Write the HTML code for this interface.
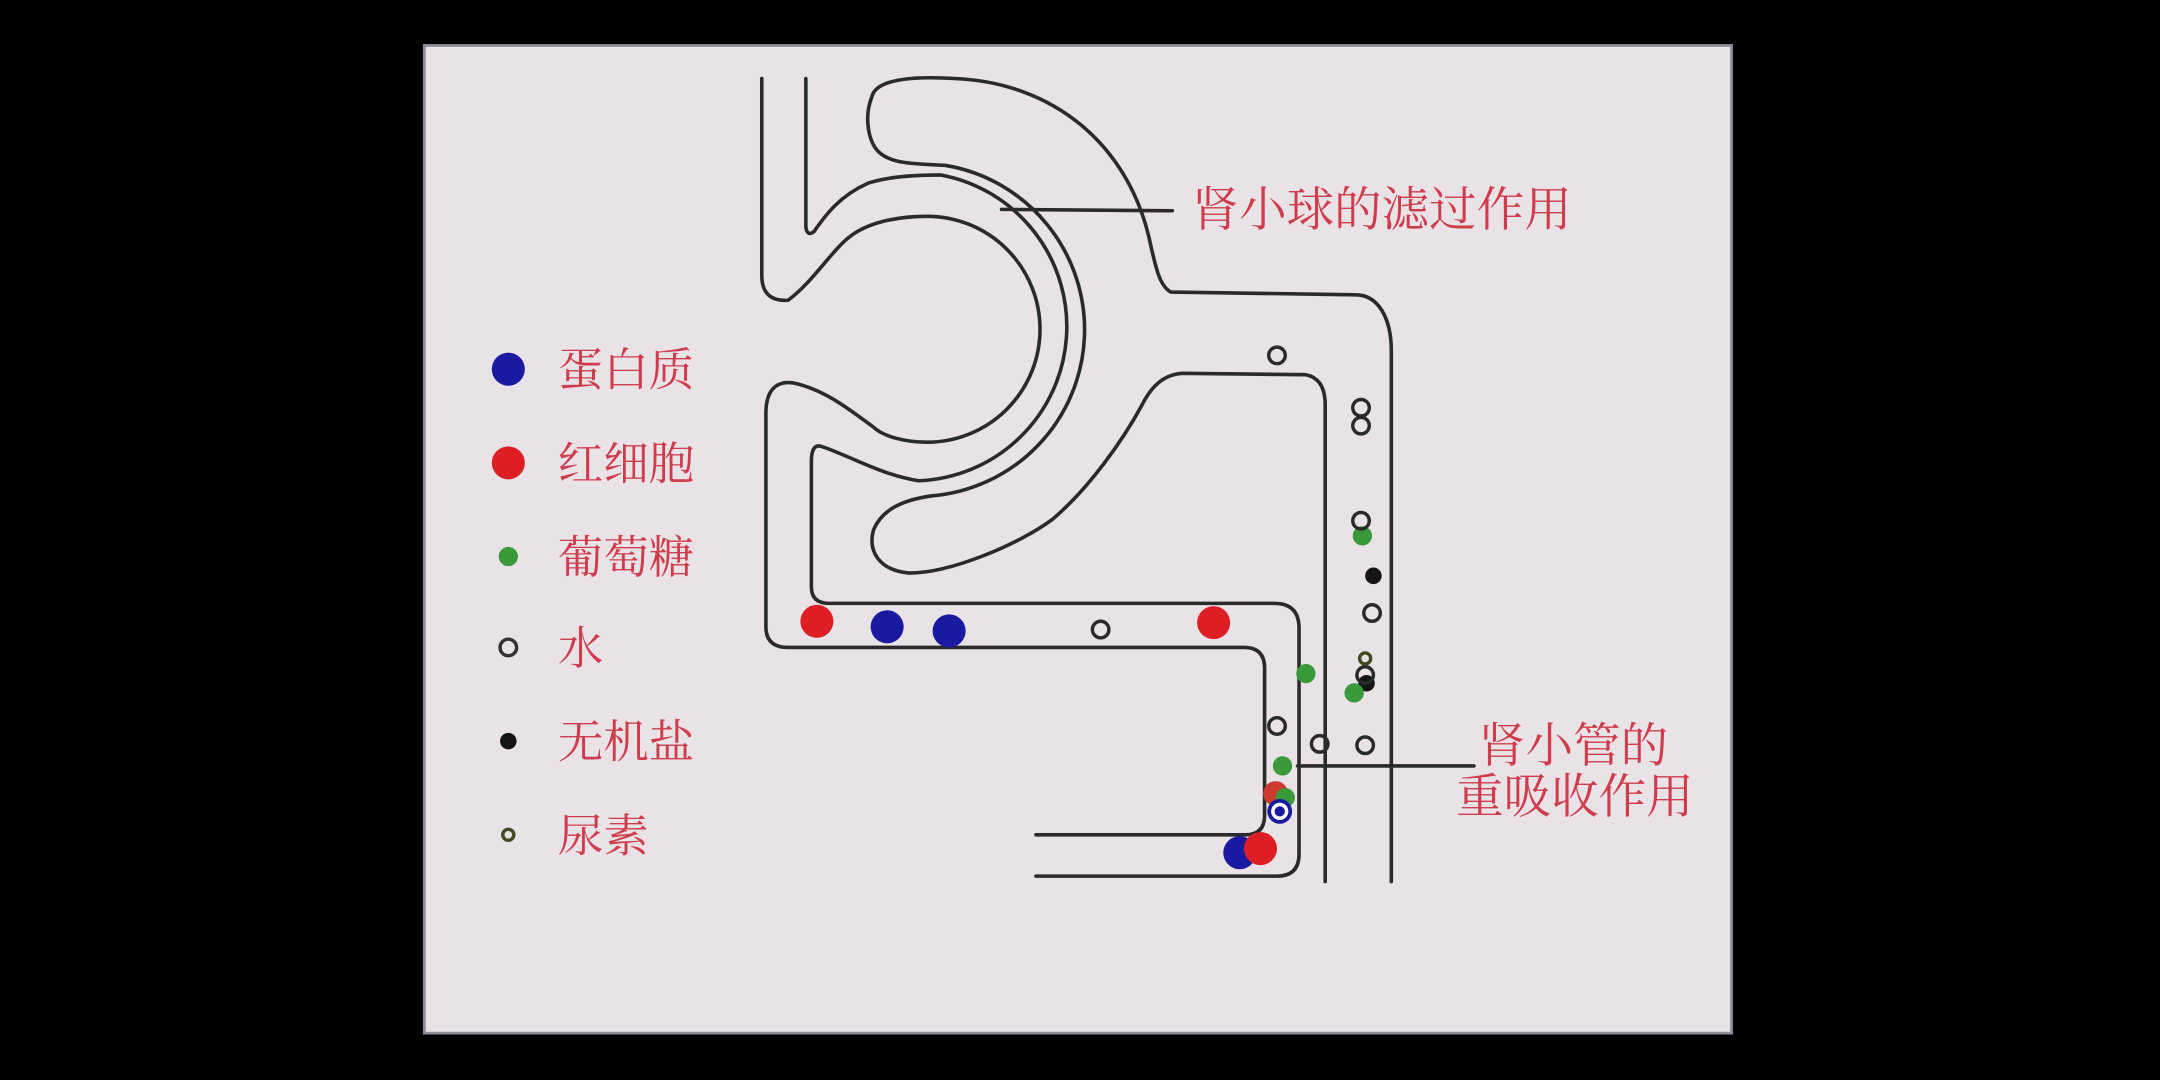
<!DOCTYPE html>
<html><head><meta charset="utf-8"><style>
html,body{margin:0;padding:0;background:#000;}
svg{display:block;}
text{font-family:"Liberation Serif","Noto Serif CJK SC",serif;fill:#cf3d4c;}
</style></head><body>
<svg width="2160" height="1080" viewBox="0 0 1568 784" xmlns="http://www.w3.org/2000/svg">
<rect x="0" y="0" width="1568" height="784" fill="#000"/>
<rect x="308" y="33" width="949" height="717" fill="#e9e3e7" stroke="#8a8c9a" stroke-width="2"/>
<g fill="none" stroke="#2a2a2a" stroke-width="2.6" stroke-linejoin="round" stroke-linecap="round">
<path d="M553,57 L553,200 Q553,219 572,218 C590,205 605,180 618,171 C630,162 650,157 673,157 A82,82 0 0 1 673,321 C655,321 640,316 634,310 C620,300 600,283 576,278 C562,276 556,285 556,300 L556,455 Q556,470 572,470 L903,470 Q918,470 918,485 L918,592 Q918,606 904,606 L752,606"/>
<path d="M585,57 L585,165 Q586,172 591,168 C600,155 610,142 630,133 C645,128 665,127 683,127 A112,112 0 0 1 667,349 C640,345 615,330 596,324 Q589,322 589,335 L589,426 Q589,438 602,438 L925,438 Q943,438 943,456 L943,620 Q943,636 927,636 L752,636"/>
<path d="M1010,640 L1010,255 C1010,230 1000,214 984,214 L850,212 C842,208 839,195 834,172 C818,105 765,60 693,57 C660,55 636,58 633,70 C627,85 630,105 640,112 C648,118 660,119 686,120 A121,121 0 0 1 676,360 C655,363 640,370 634,385 C630,400 638,414 660,416 C690,416 740,395 764,377 C790,355 815,320 829,294 C836,280 845,272 858,271 L948,272 C958,274 962,282 962,294 L962,640"/>
<line x1="727" y1="152" x2="851" y2="153"/>
<line x1="942" y1="556" x2="1070" y2="556"/>
</g>
<circle cx="369" cy="268" r="12" fill="#1a1aa0"/>
<circle cx="369" cy="336" r="12" fill="#dd1f25"/>
<circle cx="369" cy="404" r="7" fill="#3a9a3a"/>
<circle cx="369" cy="470" r="6" fill="none" stroke="#333" stroke-width="2.5"/>
<circle cx="369" cy="538" r="6" fill="#151515"/>
<circle cx="369" cy="606" r="4" fill="none" stroke="#444a20" stroke-width="2.5"/>
<g font-size="33">
<text x="405" y="280">蛋白质</text>
<text x="405" y="348">红细胞</text>
<text x="405" y="416">葡萄糖</text>
<text x="405" y="482">水</text>
<text x="405" y="550">无机盐</text>
<text x="405" y="618">尿素</text>
</g>
<g font-size="34.5">
<text x="865" y="164">肾小球的滤过作用</text>
<text x="1073" y="553">肾小管的</text>
<text x="1057" y="590">重吸收作用</text>
</g>
<g>
<circle cx="593" cy="451" r="12" fill="#dd1f25"/>
<circle cx="644" cy="455" r="12" fill="#1a1aa0"/>
<circle cx="689" cy="458" r="12" fill="#1a1aa0"/>
<circle cx="881" cy="452" r="12" fill="#dd1f25"/>
<circle cx="948" cy="489" r="7" fill="#3a9a3a"/>
<circle cx="989" cy="389" r="7" fill="#3a9a3a"/>
<circle cx="997" cy="418" r="6" fill="#151515"/>
<circle cx="992" cy="496" r="6" fill="#151515"/>
<circle cx="983" cy="503" r="7" fill="#3a9a3a"/>
<circle cx="931" cy="556" r="7" fill="#3a9a3a"/>
<circle cx="926" cy="576" r="9" fill="#cc3a30"/>
<circle cx="933" cy="579" r="7" fill="#3a9a3a"/>
<circle cx="929" cy="589" r="9" fill="#1a1aa0"/>
<circle cx="900" cy="619" r="12" fill="#1a1aa0"/>
<circle cx="915" cy="616" r="12" fill="#dd1f25"/>
<g fill="none" stroke="#2a2a2a" stroke-width="2.5">
<circle cx="799" cy="457" r="6"/>
<circle cx="927" cy="258" r="6"/>
<circle cx="988" cy="296" r="6"/>
<circle cx="988" cy="309" r="6"/>
<circle cx="988" cy="378" r="6"/>
<circle cx="996" cy="445" r="6"/>
<circle cx="991" cy="490" r="6"/>
<circle cx="927" cy="527" r="6"/>
<circle cx="958" cy="540" r="6"/>
<circle cx="991" cy="541" r="6"/>
<circle cx="929" cy="589" r="5" stroke="#fff"/>
<circle cx="991" cy="478" r="4" stroke="#444a20"/>
</g>
</g>
</svg>
</body></html>
